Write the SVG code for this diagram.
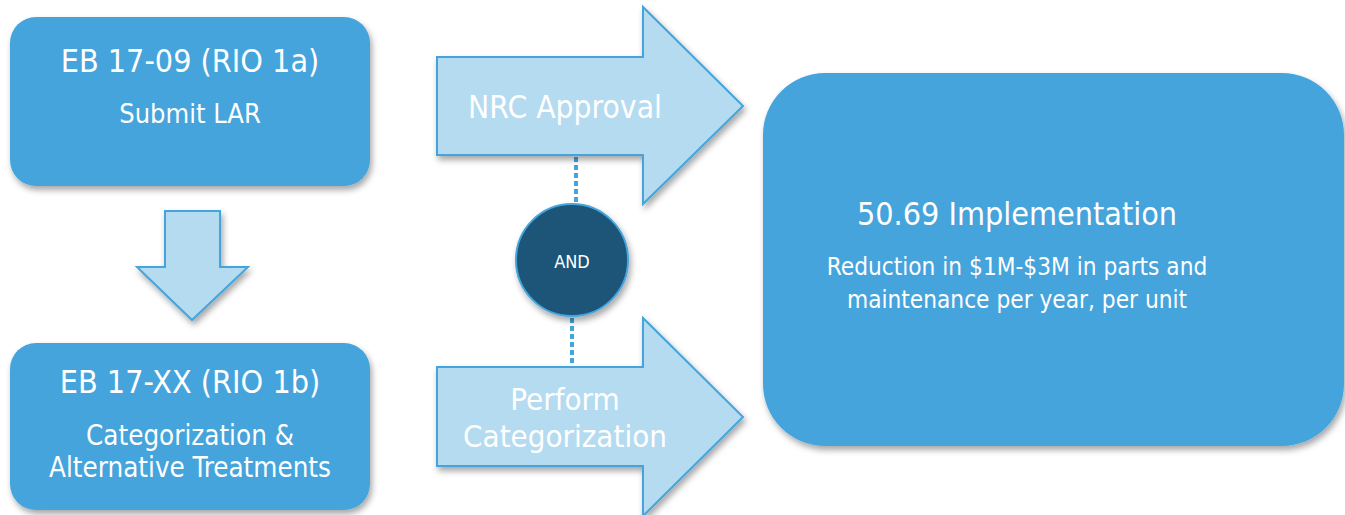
<svg xmlns="http://www.w3.org/2000/svg" width="1345" height="515" viewBox="0 0 1345 515">
<defs>
<filter id="sh" x="-10%" y="-10%" width="125%" height="130%">
<feDropShadow dx="2" dy="4" stdDeviation="3" flood-color="#000" flood-opacity="0.35"/>
</filter>
<style>
.box{fill:#45a4dc;filter:url(#sh)}
.arr{fill:#b4dbf0;stroke:#45a4dc;stroke-width:2;filter:url(#sh)}
.t{font-family:"DejaVu Sans Condensed","DejaVu Sans",sans-serif;fill:#fff;text-anchor:middle}
.dot{stroke:#45a4dc;stroke-width:4;stroke-dasharray:5 3;fill:none}
</style>
</defs>
<rect width="1345" height="515" fill="#fff"/>
<g id="connectors">
<line class="dot" x1="576" y1="157" x2="576" y2="203"/>
<line class="dot" x1="572" y1="318" x2="572" y2="367"/>
</g>
<g id="arrow-down">
<polygon class="arr" points="165,211 220,211 220,267 248,267 192,320 137,267 165,267"/>
</g>
<g id="box1">
<rect class="box" x="10" y="17" width="360" height="169" rx="26"/>
<text class="t" x="190" y="72" font-size="32">EB 17-09 (RIO 1a)</text>
<text class="t" x="190" y="123" font-size="27">Submit LAR</text>
</g>
<g id="box2">
<rect class="box" x="10" y="343" width="360" height="167" rx="26"/>
<text class="t" x="190" y="393" font-size="32">EB 17-XX (RIO 1b)</text>
<text class="t" x="190" y="445" font-size="27.5">Categorization &amp;</text>
<text class="t" x="190" y="477" font-size="27.5">Alternative Treatments</text>
</g>
<g id="arrow-nrc">
<polygon class="arr" points="437,57 643,57 643,7 743,106 643,204 643,155 437,155"/>
<text class="t" x="565" y="118" font-size="31.5">NRC Approval</text>
</g>
<g id="arrow-perform">
<polygon class="arr" points="437,367 643,367 643,318 743,417 643,516 643,466 437,466"/>
<text class="t" x="565" y="410" font-size="31">Perform</text>
<text class="t" x="565" y="447" font-size="31">Categorization</text>
</g>
<g id="and">
<circle cx="572" cy="260" r="56" fill="#1a5578" stroke="#45a4dc" stroke-width="2" filter="url(#sh)"/>
<text class="t" x="572" y="268" font-size="18">AND</text>
</g>
<g id="impl">
<rect class="box" x="763" y="73" width="581" height="373" rx="62"/>
<text class="t" x="1017" y="225" font-size="32">50.69 Implementation</text>
<text class="t" x="1017" y="275" font-size="24.2">Reduction in $1M-$3M in parts and</text>
<text class="t" x="1017" y="308" font-size="24.2">maintenance per year, per unit</text>
</g>
</svg>
